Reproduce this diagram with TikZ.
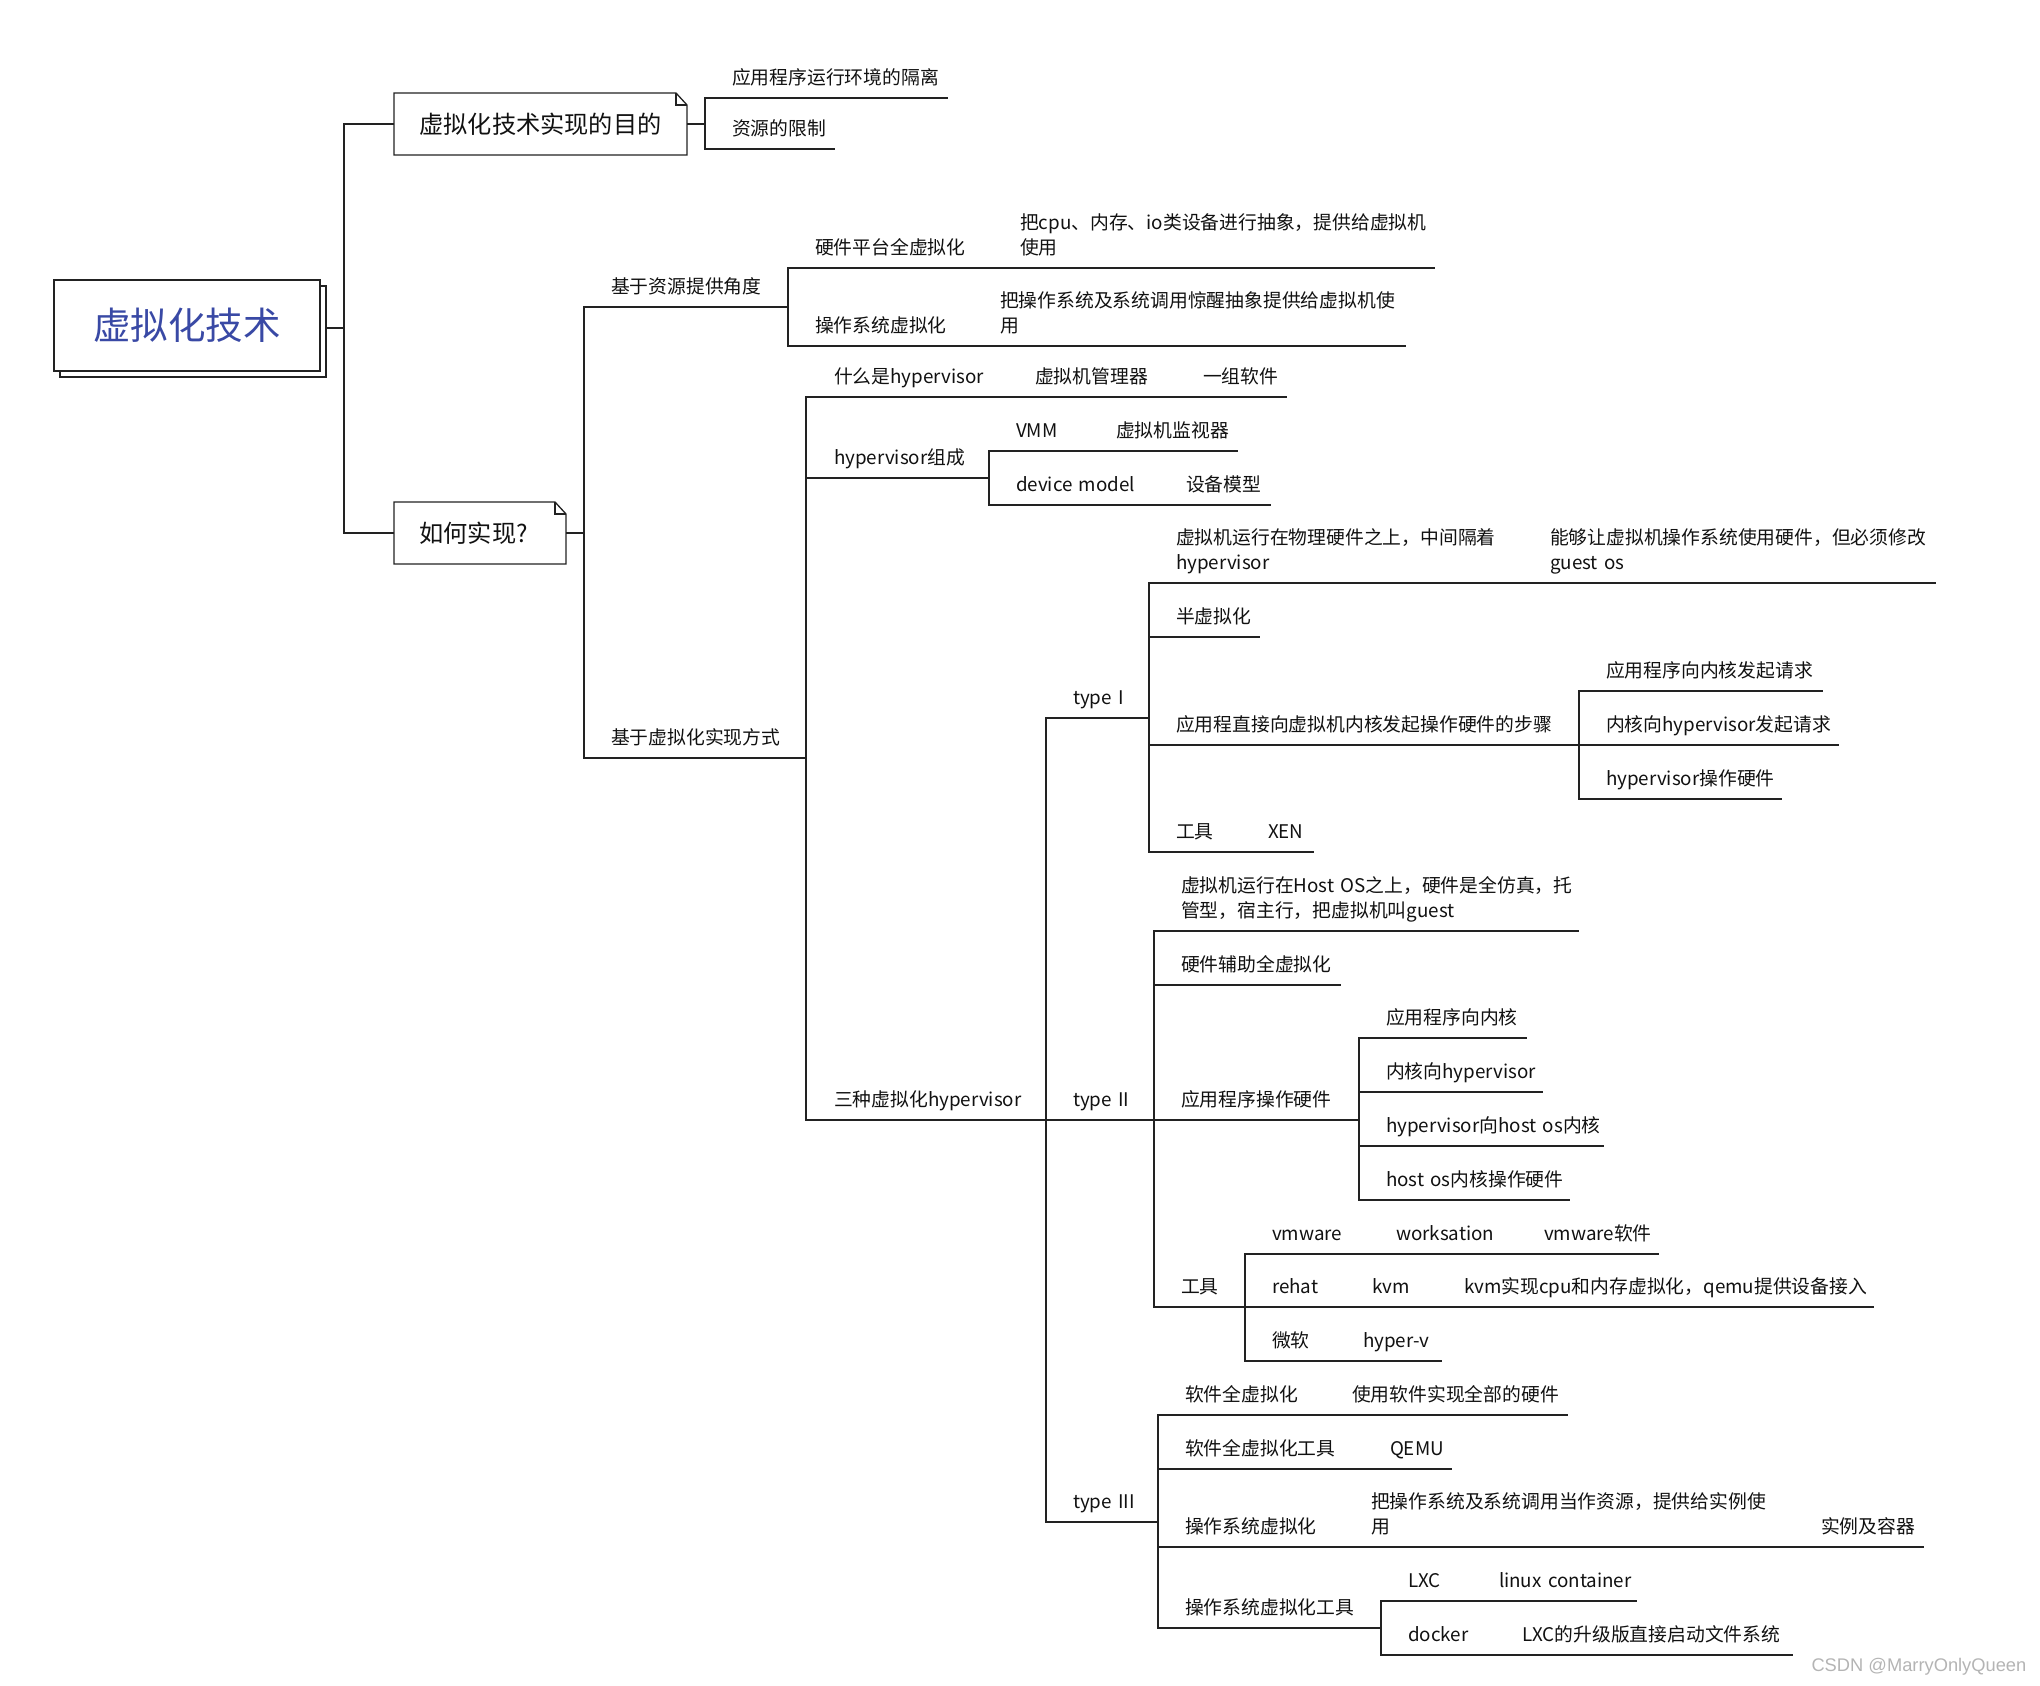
\documentclass[tikz,border=0pt]{standalone}
\usepackage{fontspec}
\setmainfont{Noto Sans CJK SC}
\newfontfamily\markfont{Liberation Sans}
\usetikzlibrary{shadows}
\definecolor{mindline}{HTML}{222222}
\definecolor{mindtext}{HTML}{111111}
\definecolor{mindroot}{HTML}{3949A5}
\definecolor{mindmark}{HTML}{B4B4B4}
\newcommand{\topicstrut}{\rule[-7.5pt]{0pt}{18pt}}
\begin{document}
\begin{tikzpicture}[x=1pt,y=-1pt,line width=1.3pt,draw=mindline,text=mindtext,
		topic/.style={anchor=south west,inner xsep=0pt,inner ysep=5.7pt,outer sep=0pt,text width=#1pt,align=left,font=\fontsize{18.8}{25}\selectfont,execute at end node=\topicstrut},
		note/.style={anchor=west,inner xsep=25.5pt,inner ysep=0pt,outer sep=0pt,minimum height=62pt,text width=#1pt,align=left,font=\fontsize{24.2}{30}\selectfont},
		rootbox/.style={draw,fill=white,anchor=north west,outer sep=0pt,minimum width=266pt,minimum height=91pt,text=mindroot,font=\fontsize{37.5}{45}\selectfont,copy shadow={shadow xshift=6pt,shadow yshift=-6pt,fill=white,draw=mindline}},
		joint/.style={inner sep=0pt,outer sep=0pt,minimum size=0pt}]
	\useasboundingbox (0,0) rectangle (2040,1686);
	\node [rootbox] (0) at (54,280) {虚拟化技术};
	\node [joint] (60) at (344,328) {};
	\node [note=242] (1) at (394,124) {虚拟化技术实现的目的};
	\node [joint] (61) at (705,124) {};
	\node [note=121] (2) at (394,533) {如何实现?};
	\node [joint] (62) at (584,533) {};
	\node [topic=216] (3) at (732,98) {应用程序运行环境的隔离};
	\node [topic=103] (4) at (732,149) {资源的限制};
	\node [topic=177] (5) at (611,307) {基于资源提供角度};
	\node [topic=178] (6) at (815,268) {硬件平台全虚拟化};
	\node [topic=415] (7) at (1020,268) {把cpu、内存、io类设备进行抽象^^^^ff0c提供给虚拟机\\使用};
	\node [topic=158] (8) at (815,346) {操作系统虚拟化};
	\node [topic=406] (9) at (1000,346) {把操作系统及系统调用惊醒抽象提供给虚拟机使\\用};
	\node [topic=195] (10) at (611,758) {基于虚拟化实现方式};
	\node [topic=174] (11) at (834,397) {什么是hypervisor};
	\node [topic=141] (12) at (1035,397) {虚拟机管理器};
	\node [topic=84] (13) at (1203,397) {一组软件};
	\node [topic=155] (14) at (834,478) {hypervisor组成};
	\node [topic=73] (15) at (1016,451) {VMM};
	\node [topic=122] (16) at (1116,451) {虚拟机监视器};
	\node [topic=143] (17) at (1016,505) {device model};
	\node [topic=85] (18) at (1186,505) {设备模型};
	\node [topic=212] (19) at (834,1120) {三种虚拟化hypervisor};
	\node [topic=76] (20) at (1073,718) {type I};
	\node [topic=347] (21) at (1176,583) {虚拟机运行在物理硬件之上^^^^ff0c中间隔着\\hypervisor};
	\node [topic=386] (22) at (1550,583) {能够让虚拟机操作系统使用硬件^^^^ff0c但必须修改\\guest os};
	\node [topic=84] (23) at (1176,637) {半虚拟化};
	\node [topic=403] (24) at (1176,745) {应用程直接向虚拟机内核发起操作硬件的步骤};
	\node [topic=217] (25) at (1606,691) {应用程序向内核发起请求};
	\node [topic=233] (26) at (1606,745) {内核向hypervisor发起请求};
	\node [topic=176] (27) at (1606,799) {hypervisor操作硬件};
	\node [topic=65] (28) at (1176,852) {工具};
	\node [topic=46] (29) at (1268,852) {XEN};
	\node [topic=81] (30) at (1073,1120) {type II};
	\node [topic=398] (31) at (1181,931) {虚拟机运行在Host OS之上^^^^ff0c硬件是全仿真^^^^ff0c托\\管型^^^^ff0c宿主行^^^^ff0c把虚拟机叫guest};
	\node [topic=160] (32) at (1181,985) {硬件辅助全虚拟化};
	\node [topic=178] (33) at (1181,1120) {应用程序操作硬件};
	\node [topic=141] (34) at (1386,1038) {应用程序向内核};
	\node [topic=157] (35) at (1386,1092) {内核向hypervisor};
	\node [topic=218] (36) at (1386,1146) {hypervisor向host os内核};
	\node [topic=184] (37) at (1386,1200) {host os内核操作硬件};
	\node [topic=64] (38) at (1181,1307) {工具};
	\node [topic=97] (39) at (1272,1254) {vmware};
	\node [topic=121] (40) at (1396,1254) {worksation};
	\node [topic=115] (41) at (1544,1254) {vmware软件};
	\node [topic=73] (42) at (1272,1307) {rehat};
	\node [topic=65] (43) at (1372,1307) {kvm};
	\node [topic=410] (44) at (1464,1307) {kvm实现cpu和内存虚拟化^^^^ff0cqemu提供设备接入};
	\node [topic=64] (45) at (1272,1361) {微软};
	\node [topic=79] (46) at (1363,1361) {hyper-v};
	\node [topic=85] (47) at (1073,1522) {type III};
	\node [topic=140] (48) at (1185,1415) {软件全虚拟化};
	\node [topic=216] (49) at (1352,1415) {使用软件实现全部的硬件};
	\node [topic=178] (50) at (1185,1469) {软件全虚拟化工具};
	\node [topic=62] (51) at (1390,1469) {QEMU};
	\node [topic=159] (52) at (1185,1547) {操作系统虚拟化};
	\node [topic=423] (53) at (1371,1547) {把操作系统及系统调用当作资源^^^^ff0c提供给实例使\\用};
	\node [topic=103] (54) at (1821,1547) {实例及容器};
	\node [topic=196] (55) at (1185,1628) {操作系统虚拟化工具};
	\node [topic=64] (56) at (1408,1601) {LXC};
	\node [topic=138] (57) at (1499,1601) {linux container};
	\node [topic=87] (58) at (1408,1655) {docker};
	\node [topic=271] (59) at (1522,1655) {LXC的升级版直接启动文件系统};
	\node [anchor=east,inner sep=0pt,text=mindmark,font=\markfont\fontsize{18.3}{24}\selectfont] (63) at (2027,1667) {CSDN @MarryOnlyQueen};
	\foreach \n in {1,2} {
		\draw (\n.south west) -- (\n.north west) -- ([xshift=-11pt]\n.north east) -- ([yshift=-12pt]\n.north east) -- (\n.south east) -- cycle;
		\draw ([xshift=-11pt]\n.north east) -- ++(0,12) -- ([yshift=-12pt]\n.north east);
	}
	\draw ([xshift=6pt,yshift=-2.5pt]0.east) -- (60.center);
	\foreach \c in {1,2} \draw (60.center) |- (\c.west);
	\draw (1.east) -- (61.center);
	\draw (2.east) -- (62.center);
	\foreach \p/\c in {61/3,61/4,62/5,62/10,5/6,6/7,5/8,8/9,10/11,11/12,12/13,10/14,14/15,15/16,14/17,17/18,10/19,
		19/20,20/21,21/22,20/23,20/24,24/25,24/26,24/27,20/28,28/29,
		19/30,30/31,30/32,30/33,33/34,33/35,33/36,33/37,30/38,38/39,39/40,40/41,38/42,42/43,43/44,38/45,45/46,
		19/47,47/48,48/49,47/50,50/51,47/52,52/53,53/54,47/55,55/56,56/57,55/58,58/59}
		\draw (\p.south east) |- ([xshift=-27pt]\c.south west) -- (\c.south east);
\end{tikzpicture}
\end{document}
